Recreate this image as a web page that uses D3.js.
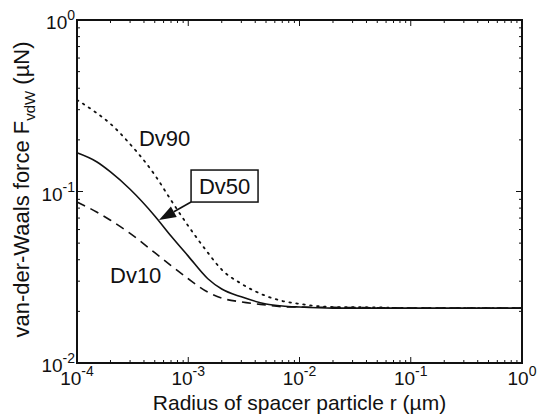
<!DOCTYPE html>
<html>
<head>
<meta charset="utf-8">
<script src="https://cdn.jsdelivr.net/npm/d3@7"></script>
<style>
  body { margin: 0; background: #fff; }
  text { font-family: "Liberation Sans", Arial, sans-serif; fill: #111; }
</style>
</head>
<body>
<svg id="chart" width="541" height="414"></svg>
<script>
// values (radius in µm, force in µN)
const radius = [1e-4, 1.5e-4, 2e-4, 3e-4, 5e-4, 7e-4, 1e-3, 1.5e-3, 2e-3, 3e-3, 5e-3, 7e-3, 1e-2, 2e-2, 5e-2, 1e-1, 1];
const dv90 = [0.342, 0.287, 0.248, 0.189, 0.125, 0.089, 0.063, 0.044, 0.035, 0.029, 0.0246, 0.0230, 0.0221, 0.0212, 0.0211, 0.0209, 0.0209];
const dv50 = [0.168, 0.149, 0.130, 0.103, 0.072, 0.055, 0.042, 0.031, 0.027, 0.0243, 0.0221, 0.0215, 0.0212, 0.0209, 0.0209, 0.0209, 0.0209];
const dv10 = [0.0868, 0.076, 0.068, 0.057, 0.044, 0.037, 0.031, 0.0259, 0.0239, 0.0227, 0.0218, 0.0213, 0.0212, 0.0211, 0.0210, 0.0209, 0.0209];

const xTickExp = [-4, -3, -2, -1, 0];
const yTickExp = [-2, -1, 0];

const svg = d3.select('#chart');
const margin = {left: 77, right: 19, top: 20, bottom: 51};
const W = 541, H = 414;

const x = d3.scaleLog().domain([1e-4, 1]).range([margin.left, W - margin.right]);
const y = d3.scaleLog().domain([1e-2, 1]).range([H - margin.bottom, margin.top]);

const x0 = x.range()[0], x1 = x.range()[1];
const y0 = y.range()[0], y1 = y.range()[1];

// minor/major ticks (inside, on all four sides)
function logTicks(exps) {
  let out = [];
  for (let i = 0; i < exps.length; i++) {
    const base = Math.pow(10, exps[i]);
    out.push({v: base, major: true});
    if (i < exps.length - 1) {
      for (let k = 2; k <= 9; k++) out.push({v: k * base, major: false});
    }
  }
  return out;
}

const ticksG = svg.append('g').attr('class', 'ticks').attr('stroke', '#111').attr('stroke-width', 1);

logTicks(xTickExp).forEach(t => {
  const len = t.major ? 6 : 3;
  const px = x(t.v);
  ticksG.append('line').attr('x1', px).attr('x2', px).attr('y1', y0).attr('y2', y0 - len);
  ticksG.append('line').attr('x1', px).attr('x2', px).attr('y1', y1).attr('y2', y1 + len);
});
logTicks(yTickExp).forEach(t => {
  const len = t.major ? 6 : 3;
  const py = y(t.v);
  ticksG.append('line').attr('x1', x0).attr('x2', x0 + len).attr('y1', py).attr('y2', py);
  ticksG.append('line').attr('x1', x1).attr('x2', x1 - len).attr('y1', py).attr('y2', py);
});

// tick labels 10^n
xTickExp.forEach(e => {
  const t = svg.append('text')
    .attr('x', x(Math.pow(10, e)))
    .attr('y', y0 + 22)
    .attr('text-anchor', 'middle')
    .style('font-size', '19px');
  t.append('tspan').text('10');
  t.append('tspan').attr('dy', -9).style('font-size', '14px').text(e === 0 ? '0' : '-' + Math.abs(e));
});
yTickExp.forEach(e => {
  const t = svg.append('text')
    .attr('x', x0 - 2)
    .attr('y', y(Math.pow(10, e)) + 9)
    .attr('text-anchor', 'end')
    .style('font-size', '19px');
  t.append('tspan').text('10');
  t.append('tspan').attr('dy', -9).style('font-size', '14px').text(e === 0 ? '0' : '-' + Math.abs(e));
});

// curves
const line = d3.line()
  .x(d => x(d[0]))
  .y(d => y(d[1]))
  .curve(d3.curveMonotoneX);

const series = [
  {vals: dv90, dash: '1.6,5.4', cap: 'round', w: 1.8},
  {vals: dv50, dash: null, cap: 'butt', w: 1.6},
  {vals: dv10, dash: '9,6', cap: 'butt', w: 1.6}
];

svg.append('g').attr('class', 'lines')
  .selectAll('path')
  .data(series)
  .join('path')
  .attr('d', s => line(radius.map((r, i) => [r, s.vals[i]])))
  .attr('fill', 'none')
  .attr('stroke', '#111')
  .attr('stroke-width', s => s.w)
  .attr('stroke-linecap', s => s.cap)
  .attr('stroke-dasharray', s => s.dash);

// axes box
svg.append('rect')
  .attr('x', x0).attr('y', y1)
  .attr('width', x1 - x0).attr('height', y0 - y1)
  .attr('fill', 'none').attr('stroke', '#111').attr('stroke-width', 2);

// annotations
svg.append('text')
  .attr('x', x(3.6e-4)).attr('y', y(0.184))
  .style('font-size', '22px').text('Dv90');

svg.append('text')
  .attr('x', x(1.98e-4)).attr('y', y(0.0293))
  .style('font-size', '22px').text('Dv10');

// Dv50 box + arrow
const boxL = x(1.06e-3), boxR = x(4.24e-3), boxT = y(0.1334), boxB = y(0.0868);
const tipX = x(5.46e-4), tipY = y(0.0682);

const ang = Math.atan2(tipY - boxB, tipX - boxL);
const headLen = 17, headW = 6;
const bx = tipX - headLen * Math.cos(ang), by = tipY - headLen * Math.sin(ang);

svg.append('line')
  .attr('x1', boxL).attr('y1', boxB)
  .attr('x2', bx).attr('y2', by)
  .attr('stroke', '#111').attr('stroke-width', 1.6);

svg.append('path')
  .attr('d', d3.line()([
    [tipX, tipY],
    [bx + headW * Math.sin(ang), by - headW * Math.cos(ang)],
    [bx - headW * Math.sin(ang), by + headW * Math.cos(ang)]
  ]) + 'Z')
  .attr('fill', '#111');

svg.append('rect')
  .attr('x', boxL).attr('y', boxT)
  .attr('width', boxR - boxL).attr('height', boxB - boxT)
  .attr('fill', '#fff').attr('stroke', '#111').attr('stroke-width', 1.5);

svg.append('text')
  .attr('x', (boxL + boxR) / 2).attr('y', (boxT + boxB) / 2 + 8)
  .attr('text-anchor', 'middle')
  .style('font-size', '22px').text('Dv50');

// axis titles
svg.append('text')
  .attr('x', (x0 + x1) / 2).attr('y', 410)
  .attr('text-anchor', 'middle')
  .style('font-size', '21px')
  .text('Radius of spacer particle r (µm)');

const yl = svg.append('text')
  .attr('transform', `translate(29,${(y0 + y1) / 2 - 2}) rotate(-90)`)
  .attr('text-anchor', 'middle')
  .style('font-size', '22px');
yl.append('tspan').text('van-der-Waals force F');
yl.append('tspan').attr('dy', 6).style('font-size', '15px').text('vdW');
yl.append('tspan').attr('dy', -6).text(' (µN)');
</script>
</body>
</html>
